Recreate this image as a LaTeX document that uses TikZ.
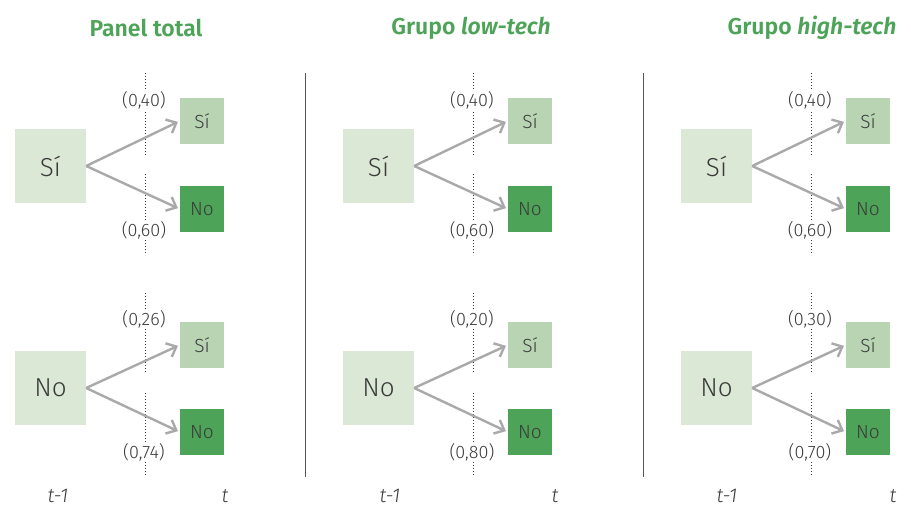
\documentclass[tikz,border=0pt]{standalone}
\usepackage{fontspec}
\setmainfont{Fira Sans}[
    UprightFont=* Light, ItalicFont=* Light Italic,
    BoldFont=* SemiBold, BoldItalicFont=* SemiBold Italic]
\usetikzlibrary{arrows.meta}

% Colores
\definecolor{verde}{HTML}{4DA357}
\definecolor{verdemedio}{HTML}{B8D4B3}
\definecolor{verdeclaro}{HTML}{DCE8D6}
\definecolor{gris}{HTML}{A9A9AB}
\definecolor{texto}{HTML}{3A3A3A}

\begin{document}
\begin{tikzpicture}[
    x=1pt, y=-1pt,
    % Estilos de Nodos
    titulo/.style={text=verde, font=\fontsize{23}{25}\selectfont\bfseries},
    origen/.style={rectangle, fill=verdeclaro, minimum width=71pt, minimum height=74pt,
                   text=texto, font=\fontsize{26}{28}\selectfont},
    dest_si/.style={rectangle, fill=verdemedio, minimum width=44pt, minimum height=46pt,
                    text=texto, font=\fontsize{19}{21}\selectfont},
    dest_no/.style={rectangle, fill=verde, minimum width=44pt, minimum height=46pt,
                    text=texto, font=\fontsize{19}{21}\selectfont},
    prob/.style={fill=white, inner sep=1pt, text=texto, font=\fontsize{18}{20}\selectfont},
    tiempo/.style={anchor=base, inner sep=0pt, text=texto,
                   font=\fontsize{20}{22}\selectfont\itshape},
    % Estilos de Lineas
    flecha/.style={-{Straight Barb[length=8.5pt, width=15pt]}, line width=2.4pt,
                   draw=gris, shorten >=2pt},
    guia/.style={draw=texto, line width=0.9pt, dash pattern=on 1pt off 2pt},
    separador/.style={draw=texto!85, line width=1pt}
]

\useasboundingbox (0,0) rectangle (911,507);

% --- Titulos ---
\node[titulo] (tit1) at (146,28) {Panel total};
\node[titulo] (tit2) at (471,28) {Grupo \textit{low-tech}};
\node[titulo] (tit3) at (812,28) {Grupo \textit{high-tech}};

% --- Separadores ---
\draw[separador] (305,73) -- (305,477);
\draw[separador] (643,73) -- (643,477);

% === PANEL TOTAL ===
\draw[guia] (145,73) -- (145,155);
\draw[guia] (145,174) -- (145,255);
\draw[guia] (145,293) -- (145,373);
\draw[guia] (145,393) -- (145,475);

\node[origen] (si1) at (50.5,166) {Sí};
\node[dest_si] (si1si) at (202,121) {Sí};
\node[dest_no] (si1no) at (202,209) {No};
\node[origen] (no1) at (50.5,388) {No};
\node[dest_si] (no1si) at (202,345) {Sí};
\node[dest_no] (no1no) at (202,432) {No};

\draw[flecha] (si1.east) -- (si1si.west);
\draw[flecha] (si1.east) -- (si1no.west);
\draw[flecha] (no1.east) -- (no1si.west);
\draw[flecha] (no1.east) -- (no1no.west);

\node[prob] (p1a) at (144,100) {(0,40)};
\node[prob] (p1b) at (144,230) {(0,60)};
\node[prob] (p1c) at (144,319) {(0,26)};
\node[prob] (p1d) at (144,452) {(0,74)};

\node[tiempo] (t1a) at (58,502) {t-1};
\node[tiempo] (t1b) at (225,502) {t};

% === GRUPO LOW-TECH ===
\begin{scope}[xshift=328pt]
\draw[guia] (145,73) -- (145,155);
\draw[guia] (145,174) -- (145,255);
\draw[guia] (145,293) -- (145,373);
\draw[guia] (145,393) -- (145,475);

\node[origen] (si2) at (50.5,166) {Sí};
\node[dest_si] (si2si) at (202,121) {Sí};
\node[dest_no] (si2no) at (202,209) {No};
\node[origen] (no2) at (50.5,388) {No};
\node[dest_si] (no2si) at (202,345) {Sí};
\node[dest_no] (no2no) at (202,432) {No};

\draw[flecha] (si2.east) -- (si2si.west);
\draw[flecha] (si2.east) -- (si2no.west);
\draw[flecha] (no2.east) -- (no2si.west);
\draw[flecha] (no2.east) -- (no2no.west);

\node[prob] (p2a) at (144,100) {(0,40)};
\node[prob] (p2b) at (144,230) {(0,60)};
\node[prob] (p2c) at (144,319) {(0,20)};
\node[prob] (p2d) at (144,452) {(0,80)};

\node[tiempo] (t2a) at (62,502) {t-1};
\node[tiempo] (t2b) at (227,502) {t};
\end{scope}

% === GRUPO HIGH-TECH ===
\begin{scope}[xshift=666pt]
\draw[guia] (145,73) -- (145,155);
\draw[guia] (145,174) -- (145,255);
\draw[guia] (145,293) -- (145,373);
\draw[guia] (145,393) -- (145,475);

\node[origen] (si3) at (50.5,166) {Sí};
\node[dest_si] (si3si) at (202,121) {Sí};
\node[dest_no] (si3no) at (202,209) {No};
\node[origen] (no3) at (50.5,388) {No};
\node[dest_si] (no3si) at (202,345) {Sí};
\node[dest_no] (no3no) at (202,432) {No};

\draw[flecha] (si3.east) -- (si3si.west);
\draw[flecha] (si3.east) -- (si3no.west);
\draw[flecha] (no3.east) -- (no3si.west);
\draw[flecha] (no3.east) -- (no3no.west);

\node[prob] (p3a) at (144,100) {(0,40)};
\node[prob] (p3b) at (144,230) {(0,60)};
\node[prob] (p3c) at (144,319) {(0,30)};
\node[prob] (p3d) at (144,452) {(0,70)};

\node[tiempo] (t3a) at (61,502) {t-1};
\node[tiempo] (t3b) at (227,502) {t};
\end{scope}

\end{tikzpicture}
\end{document}
